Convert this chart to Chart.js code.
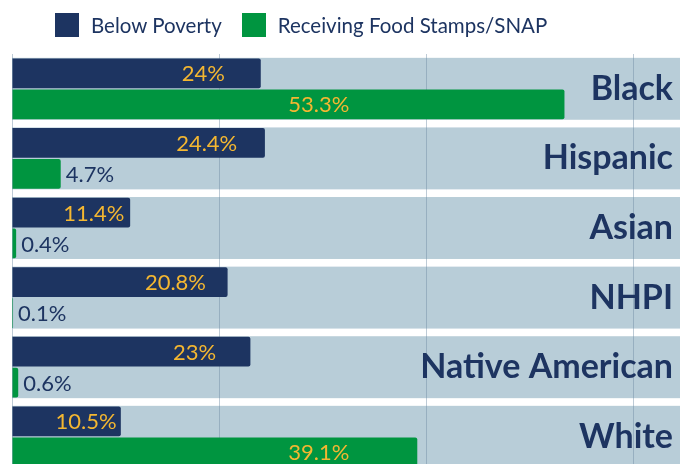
<!DOCTYPE html>
<html>
<head>
<meta charset="utf-8">
<script src="https://cdn.jsdelivr.net/npm/chart.js@4/dist/chart.umd.min.js"></script>
<style>
  html, body { margin: 0; padding: 0; background: #fff; overflow: hidden; }
  #wrap { position: relative; width: 680px; height: 464px; overflow: hidden; }
  #legend { position: absolute; left: 55px; top: 13px; display: flex; align-items: center;
            font-family: Lato, sans-serif; font-size: 20.5px; color: #1d3461; z-index: 2; }
  #legend .item { display: flex; align-items: center; margin-right: 20px; }
  #legend .sw { width: 24px; height: 24px; margin-right: 12px; }
  #holder { position: absolute; left: 0; top: 0; }
</style>
</head>
<body>
<div id="wrap">
  <div id="legend"></div>
  <div id="holder"><canvas id="chart" width="689" height="500"></canvas></div>
</div>
<script>
// Podíl pod hranicí chudoby vs. pobírající potravinové lístky (SNAP), podle rasy
const categories = ['Black', 'Hispanic', 'Asian', 'NHPI', 'Native American', 'White'];
const belowPoverty = [24, 24.4, 11.4, 20.8, 23, 10.5];
const snap = [53.3, 4.7, 0.4, 0.1, 0.6, 39.1];
const seriesNames = ['Below Poverty', 'Receiving Food Stamps/SNAP'];

const NAVY = '#1d3461';
const GREEN = '#009540';
const GOLD = '#f4b731';
const BAND = '#b8cdd8';
const FONT = 'Lato, sans-serif';

// HTML legenda nahoře
const legendEl = document.getElementById('legend');
[NAVY, GREEN].forEach((c, i) => {
    const item = document.createElement('div');
    item.className = 'item';
    item.innerHTML = `<span class="sw" style="background:${c}"></span><span>${seriesNames[i]}</span>`;
    legendEl.appendChild(item);
});

// světlé pruhy za každou kategorií (až k pravému okraji plátna)
const bandPlugin = {
    id: 'bands',
    beforeDraw(chart) {
        const { ctx, chartArea, scales: { y } } = chart;
        const step = y.getPixelForValue(1) - y.getPixelForValue(0);
        const h = step * 0.89;
        ctx.save();
        ctx.fillStyle = BAND;
        categories.forEach((_c, i) => {
            const cy = y.getPixelForValue(i);
            ctx.fillRect(chartArea.left, cy - h / 2, chart.width - chartArea.left, h);
        });
        ctx.restore();
    },
};

// popisky hodnot: dlouhé sloupce zlatě uvnitř, krátké tmavě za koncem
const valueLabels = {
    id: 'valueLabels',
    afterDatasetsDraw(chart) {
        const { ctx, scales: { x } } = chart;
        ctx.save();
        ctx.font = `22px ${FONT}`;
        ctx.textBaseline = 'middle';
        chart.data.datasets.forEach((ds, di) => {
            chart.getDatasetMeta(di).data.forEach((bar, i) => {
                const v = ds.data[i];
                const text = `${v}%`;
                if (v >= 8) {
                    ctx.fillStyle = GOLD;
                    ctx.textAlign = 'center';
                    const cx = Math.min(x.getPixelForValue(v * 0.837) - 17, x.getPixelForValue(29.6));
                    ctx.fillText(text, cx, bar.y + 1);
                } else {
                    ctx.fillStyle = NAVY;
                    ctx.textAlign = 'left';
                    ctx.fillText(text, bar.x + 5, bar.y + 1);
                }
            });
        });
        ctx.restore();
    },
};

new Chart(document.getElementById('chart'), {
    type: 'bar',
    data: {
        labels: categories,
        datasets: [
            { label: seriesNames[0], data: belowPoverty, backgroundColor: NAVY },
            { label: seriesNames[1], data: snap, backgroundColor: GREEN },
        ],
    },
    options: {
        indexAxis: 'y',
        responsive: false,
        animation: false,
        categoryPercentage: 0.89,
        barPercentage: 0.96,
        borderRadius: 2,
        borderSkipped: 'start',
        layout: { padding: { top: 54, left: 12, right: 0, bottom: 0 } },
        plugins: { legend: { display: false }, tooltip: { enabled: false } },
        scales: {
            x: {
                min: 0,
                max: 63,
                grid: { color: 'rgba(110,140,165,0.45)', drawTicks: false },
                border: { display: false },
                ticks: { display: false, stepSize: 20 },
                // jen mřížka po 20 %, bez čáry na maximu osy
                afterBuildTicks: (axis) => {
                    axis.ticks = axis.ticks.filter((tk) => tk.value % 20 === 0);
                },
            },
            y: {
                position: 'right',
                grid: { display: false },
                border: { display: false },
                ticks: {
                    mirror: true,
                    padding: 8,
                    color: NAVY,
                    font: { family: FONT, size: 34, weight: 'bold' },
                },
            },
        },
    },
    plugins: [bandPlugin, valueLabels],
});
</script>
</body>
</html>
